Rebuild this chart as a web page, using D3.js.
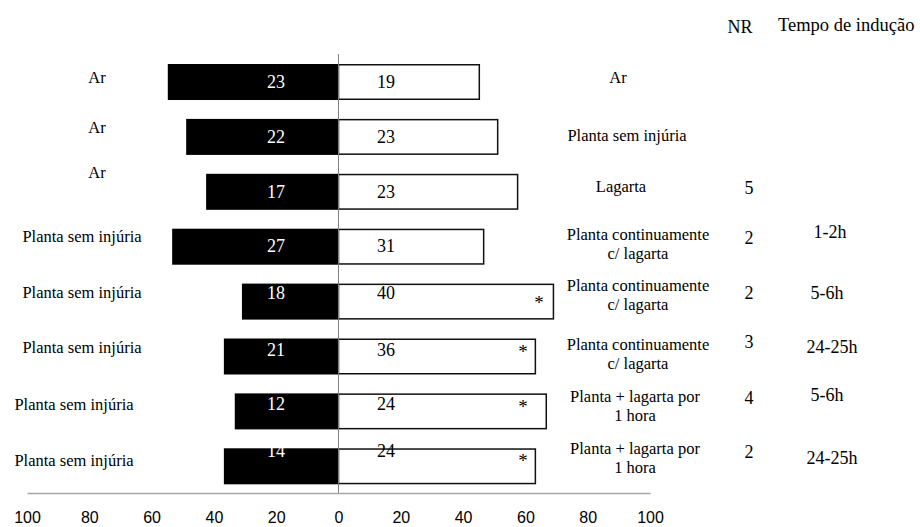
<!DOCTYPE html>
<html>
<head>
<meta charset="utf-8">
<script src="https://cdn.jsdelivr.net/npm/d3@7"></script>
</head>
<body style="margin:0">
<svg id="chart" width="920" height="527"></svg>
<script>
// ---- data ----
const leftLabels = ["Ar", "Ar", "Ar", "Planta sem injúria", "Planta sem injúria",
  "Planta sem injúria", "Planta sem injúria", "Planta sem injúria"];
const rightLabels = [
  ["Ar"], ["Planta sem injúria"], ["Lagarta"],
  ["Planta continuamente", "c/ lagarta"], ["Planta continuamente", "c/ lagarta"],
  ["Planta continuamente", "c/ lagarta"],
  ["Planta + lagarta por", "1 hora"], ["Planta + lagarta por", "1 hora"]
];
const countLeft  = [23, 22, 17, 27, 18, 21, 12, 14];
const countRight = [19, 23, 23, 31, 40, 36, 24, 24];
const pctLeft  = [54.8, 48.9, 42.5, 53.4, 31.0, 36.8, 33.3, 36.8];
const pctRight = [45.2, 51.1, 57.5, 46.6, 69.0, 63.2, 66.7, 63.2];
const significant = [false, false, false, false, true, true, true, true];
const nrValues = ["", "", "5", "2", "2", "3", "4", "2"];
const inductionTimes = ["", "", "", "1-2h", "5-6h", "24-25h", "5-6h", "24-25h"];
const tickValues = [-100, -80, -60, -40, -20, 0, 20, 40, 60, 80, 100];

// ---- fine text placement per row (px, relative to bar centre) ----
const leftLabelDy  = [-5, -9, -19, -10, -9, -8.5, -7, -6];
const leftLabelX   = [97, 97, 97, 82, 82, 82, 74, 74];
const rightLabelX  = [618, 627, 621, 638, 638, 638, 635, 635];
const rightLabelDy = [-5, -1, -5, -3, -7, -2.5, -5, -8.5];
const numberDy     = [0, 0, 0, -1, -9, -6.5, -7, -15];
const nrDy         = [0, 0, -4, -9, -9, -14.5, -13, -14];
const timeDy       = [0, 0, 0, -15, -9, -9.5, -16, -8];
const timeX        = [0, 0, 0, 830, 827, 832, 827, 832];
const starAt       = [0, 0, 0, 0, 64.4, 59.2, 59.2, 59.2];
const starDy       = [0, 0, 0, 0, -3, -8.5, -8, -9];

const svg = d3.select("#chart");
const rows = d3.range(leftLabels.length);

const x = d3.scaleLinear().domain([-100, 100]).range([27, 650]);
const y = d3.scaleBand().domain(rows).range([50, 498.3])
  .paddingInner(0.344).paddingOuter(0.255);
const cy = i => y(i) + y.bandwidth() / 2;

// black bars (left side)
svg.append("g").selectAll("rect").data(rows).join("rect")
  .attr("x", i => x(-pctLeft[i]))
  .attr("y", i => y(i))
  .attr("width", i => x(0) - x(-pctLeft[i]))
  .attr("height", y.bandwidth())
  .attr("fill", "#000");

// white outlined bars (right side)
svg.append("g").selectAll("rect").data(rows).join("rect")
  .attr("x", x(0))
  .attr("y", i => y(i) + 0.75)
  .attr("width", i => x(pctRight[i]) - x(0))
  .attr("height", y.bandwidth() - 1.5)
  .attr("fill", "#fff")
  .attr("stroke", "#111")
  .attr("stroke-width", 1.5);

// zero line
svg.append("line")
  .attr("x1", x(0)).attr("x2", x(0))
  .attr("y1", 54).attr("y2", 493)
  .attr("stroke", "#7f7f7f").attr("stroke-width", 1);

// horizontal axis
const axis = svg.append("g").attr("transform", "translate(0,493)")
  .call(d3.axisBottom(x).tickValues(tickValues).tickSize(0).tickPadding(0)
    .tickFormat(d => Math.abs(d)));
axis.attr("font-family", "Liberation Sans").attr("font-size", 16);
axis.select(".domain").attr("stroke", "#a6a6a6").attr("stroke-width", 1.5);
axis.selectAll("text").attr("y", 30).attr("dy", null).attr("fill", "#000");

// all remaining text is set in a Times-like serif
const labels = svg.append("g").style("font-family", "Liberation Serif");

// counts inside bars
labels.append("g").selectAll("text").data(rows).join("text")
  .attr("x", 276).attr("y", i => cy(i) + numberDy[i] + 6)
  .attr("text-anchor", "middle").attr("fill", "#fff").attr("font-size", 18)
  .text(i => countLeft[i]);
labels.append("g").selectAll("text").data(rows).join("text")
  .attr("x", 386).attr("y", i => cy(i) + numberDy[i] + 6)
  .attr("text-anchor", "middle").attr("fill", "#000").attr("font-size", 18)
  .text(i => countRight[i]);

// significance markers
labels.append("g").selectAll("text").data(rows.filter(i => significant[i])).join("text")
  .attr("x", i => x(starAt[i])).attr("y", i => cy(i) + starDy[i] + 10)
  .attr("text-anchor", "middle").attr("fill", "#000").attr("font-size", 19)
  .text("*");

// left treatment labels
labels.append("g").selectAll("text").data(rows).join("text")
  .attr("x", i => leftLabelX[i]).attr("y", i => cy(i) + leftLabelDy[i] + 5.5)
  .attr("text-anchor", "middle").attr("fill", "#000").attr("font-size", 16.5)
  .text(i => leftLabels[i]);

// right treatment labels (one or two lines)
const rl = labels.append("g").selectAll("text").data(rows).join("text")
  .attr("text-anchor", "middle").attr("fill", "#000").attr("font-size", 16.5);
rl.each(function(i) {
  const lines = rightLabels[i];
  const top = cy(i) + rightLabelDy[i] - (lines.length - 1) * 19 / 2 + 5.5;
  d3.select(this).selectAll("tspan").data(lines).join("tspan")
    .attr("x", rightLabelX[i])
    .attr("y", (d, k) => top + k * 19)
    .text(d => d);
});

// NR column
labels.append("text").attr("x", 740).attr("y", 33)
  .attr("text-anchor", "middle").attr("fill", "#000").attr("font-size", 18)
  .text("NR");
labels.append("g").selectAll("text").data(rows.filter(i => nrValues[i])).join("text")
  .attr("x", 749).attr("y", i => cy(i) + nrDy[i] + 6)
  .attr("text-anchor", "middle").attr("fill", "#000").attr("font-size", 18)
  .text(i => nrValues[i]);

// induction time column
labels.append("text").attr("x", 778).attr("y", 31)
  .attr("fill", "#000").attr("font-size", 18.5)
  .text("Tempo de indução");
labels.append("g").selectAll("text").data(rows.filter(i => inductionTimes[i])).join("text")
  .attr("x", i => timeX[i]).attr("y", i => cy(i) + timeDy[i] + 6)
  .attr("text-anchor", "middle").attr("fill", "#000").attr("font-size", 18)
  .text(i => inductionTimes[i]);
</script>
</body>
</html>
